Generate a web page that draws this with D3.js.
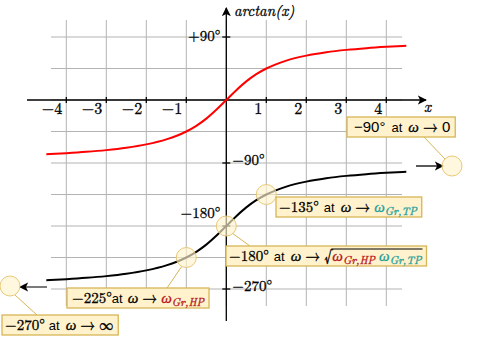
<!DOCTYPE html>
<html>
<head>
<meta charset="utf-8">
<script src="https://cdn.jsdelivr.net/npm/d3@7"></script>
<style>
  body { margin: 0; background: #fff; }
  svg { display: block; }
  text { white-space: pre; }
</style>
</head>
<body>
<svg id="chart" width="497" height="353"></svg>
<script>
// values
const xTicks = [-4, -3, -2, -1, 1, 2, 3, 4];
const yGrid = [90, 45, 0, -45, -90, -135, -180, -225, -270];
const yTickVals = [90, -90, -180, -270];
const yTickText = ["+90°", "−90°", "−180°", "−270°"];
const xs = [-4.5, -4, -3.5, -3, -2.5, -2, -1.5, -1, -0.75, -0.5, -0.25, 0, 0.25, 0.5, 0.75, 1, 1.5, 2, 2.5, 3, 3.5, 4, 4.5];
const redDeg = [-77.5, -76, -74.1, -71.6, -68.2, -63.4, -56.3, -45, -36.9, -26.6, -14, 0, 14, 26.6, 36.9, 45, 56.3, 63.4, 68.2, 71.6, 74.1, 76, 77.5];
const blackDeg = [-257.5, -256, -254.1, -251.6, -248.2, -243.4, -236.3, -225, -216.9, -206.6, -194, -180, -166, -153.4, -143.1, -135, -123.7, -116.6, -111.8, -108.4, -105.9, -104, -102.5];
const markX = [1, 0, -1];
const markDeg = [-135, -180, -225];

const SERIF = "'Latin Modern Roman', 'Liberation Serif'";
const SANS = "'Liberation Sans', Arial, sans-serif";
const TEAL = "#1b9e9a", DRED = "#b5121b";
const BOX_FILL = "#fff2cc", BOX_STROKE = "#d6b656";

const svg = d3.select("#chart");
const x = d3.scaleLinear().domain([-4, 4]).range([66.3, 386.3]);
const y = d3.scaleLinear().domain([90, -270]).range([37, 289]);

svg.append("defs").append("marker")
  .attr("id", "arr").attr("viewBox", "0 0 10 10").attr("refX", 9).attr("refY", 5)
  .attr("markerWidth", 7).attr("markerHeight", 7).attr("orient", "auto-start-reverse")
  .append("path").attr("d", "M0,0 L10,5 L0,10 L2.5,5 Z").attr("fill", "#000");

// serif text gets a thin stroke so it reads as dark as the reference
const serif = (sel, size, italic) => sel
  .style("font-family", SERIF).style("font-size", size + "px")
  .style("font-style", italic ? "italic" : "normal")
  .attr("stroke", "currentColor").attr("stroke-width", 0.3);

// grid
const grid = svg.append("g").attr("stroke", "#b3b3b3").attr("stroke-width", 1);
grid.selectAll("line.v").data(d3.range(-4, 5)).join("line")
  .attr("x1", d => x(d)).attr("x2", d => x(d)).attr("y1", 20).attr("y2", 306);
grid.selectAll("line.h").data(yGrid).join("line")
  .attr("x1", 51).attr("x2", 402).attr("y1", d => y(d)).attr("y2", d => y(d));

// axes
const ax = svg.append("g").attr("stroke", "#000").attr("stroke-width", 1.3);
ax.append("line").attr("x1", 27).attr("x2", 426).attr("y1", y(0)).attr("y2", y(0)).attr("marker-end", "url(#arr)");
ax.append("line").attr("x1", x(0)).attr("x2", x(0)).attr("y1", 321).attr("y2", 8).attr("marker-end", "url(#arr)");
ax.selectAll("line.xt").data(xTicks).join("line")
  .attr("x1", d => x(d)).attr("x2", d => x(d)).attr("y1", y(0) - 3).attr("y2", y(0) + 3);
ax.selectAll("line.yt").data(yTickVals).join("line")
  .attr("x1", x(0) - 4).attr("x2", x(0) + 4).attr("y1", d => y(d)).attr("y2", d => y(d));

serif(svg.selectAll("text.xl").data(xTicks).join("text")
  .attr("x", d => x(d) - 4).attr("y", y(0) + 14).attr("text-anchor", "end"), 16)
  .text(d => d < 0 ? "−" + Math.abs(d) : d);

serif(svg.append("text").attr("x", 424).attr("y", y(0) + 12), 15, true).text("x");
serif(svg.append("text").attr("x", 234).attr("y", 16), 15, true).text("arctan(x)");

yTickVals.forEach((v, i) => {
  const right = v === -90 || v === -270;
  const dy = v === -180 ? -8 : (v === 90 ? 4 : 2);
  serif(svg.append("text")
    .attr("x", right ? x(0) + 6 : x(0) - 6)
    .attr("y", y(v) + dy)
    .attr("text-anchor", right ? "start" : "end"), 15)
    .text(yTickText[i]);
});

// curves
const line = d3.line().x((d, i) => x(xs[i])).y(d => y(d)).curve(d3.curveMonotoneX);
svg.append("path").datum(redDeg).attr("d", line)
  .attr("fill", "none").attr("stroke", "#ff0000").attr("stroke-width", 2);
svg.append("path").datum(blackDeg).attr("d", line)
  .attr("fill", "none").attr("stroke", "#000").attr("stroke-width", 2);

// off-plot arrows
svg.append("line").attr("x1", 416).attr("x2", 443).attr("y1", 166).attr("y2", 166)
  .attr("stroke", "#000").attr("stroke-width", 1.3).attr("marker-end", "url(#arr)");
svg.append("line").attr("x1", 47).attr("x2", 20).attr("y1", 287).attr("y2", 287)
  .attr("stroke", "#333").attr("stroke-width", 1.3).attr("marker-end", "url(#arr)");

// connectors
const conn = [[423, 136, 445, 159], [232, 233, 250, 246], [182, 266, 167, 288], [15, 295, 37, 315]];
svg.selectAll("line.cn").data(conn).join("line")
  .attr("x1", d => d[0]).attr("y1", d => d[1]).attr("x2", d => d[2]).attr("y2", d => d[3])
  .attr("stroke", BOX_STROKE).attr("stroke-width", 1);

// marker circles
const circ = svg.append("g").attr("fill", BOX_FILL).attr("fill-opacity", 0.65)
  .attr("stroke", "#e9c978").attr("stroke-width", 1);
circ.selectAll("circle.m").data(markX).join("circle")
  .attr("cx", d => x(d)).attr("cy", (d, i) => y(markDeg[i])).attr("r", 10);
circ.append("circle").attr("cx", 452).attr("cy", 166).attr("r", 10);
circ.append("circle").attr("cx", 10).attr("cy", 286).attr("r", 10);

// annotation boxes
function rich(g, x0, base, segs) {
  let cx = x0;
  const marks = {};
  segs.forEach(s => {
    if (s.mark) { marks[s.mark] = cx; return; }
    if (s.sp) { cx += s.sp; return; }
    const t = g.append("text").attr("x", cx).attr("y", base + (s.dy || 0))
      .style("color", s.c || "#000").attr("fill", s.c || "#000")
      .text(s.t);
    if (s.f === "s") t.style("font-family", SANS).style("font-size", (s.z || 13) + "px");
    else serif(t, s.z || 15, s.i);
    cx += t.node().getComputedTextLength();
  });
  return { end: cx, marks };
}

const sub = (t, c) => ({ t, c, i: true, z: 11, dy: 3 });
const at = { t: "at", f: "s", z: 13 };
const w = { t: "ω", i: true };
const to = [{ sp: 4 }, { t: "→" }, { sp: 4 }];
const boxes = [
  { x: 347, y: 117, segs: [{ sp: 4 }, { t: "−90°", f: "s", z: 15 }, { sp: 6 }, at, { sp: 6 }, w, ...to, { t: "0", f: "s", z: 15 }] },
  { x: 276, y: 197, segs: [{ t: "−135°" }, { sp: 5 }, at, { sp: 6 }, w, ...to, { t: "ω", i: true, c: TEAL }, sub("Gr,TP", TEAL)] },
  { x: 226, y: 246, segs: [{ t: "−180°" }, { sp: 5 }, at, { sp: 6 }, w, ...to, { t: "√", z: 17, dy: 1 }, { mark: "a" }, { t: "ω", i: true, c: DRED }, sub("Gr,HP", DRED), { sp: 4 }, { t: "ω", i: true, c: TEAL }, sub("Gr,TP", TEAL), { mark: "b" }] },
  { x: 67, y: 288, segs: [{ sp: 2 }, { t: "−225°" }, at, { sp: 5 }, w, ...to, { t: "ω", i: true, c: DRED }, sub("Gr,HP", DRED)] },
  { x: 2, y: 315, segs: [{ t: "−270°" }, { sp: 4 }, at, { sp: 6 }, w, ...to, { t: "∞", z: 14 }] }
];

boxes.forEach(b => {
  const g = svg.append("g");
  const rect = g.append("rect").attr("x", b.x).attr("y", b.y).attr("height", 20)
    .attr("fill", BOX_FILL).attr("stroke", BOX_STROKE).attr("stroke-width", 1.3);
  const r = rich(g, b.x + 3, b.y + 15, b.segs);
  rect.attr("width", r.end - b.x + 5);
  if (r.marks.a !== undefined) {
    g.append("line").attr("x1", r.marks.a - 1).attr("x2", r.marks.b + 1)
      .attr("y1", b.y + 3).attr("y2", b.y + 3).attr("stroke", "#000").attr("stroke-width", 1);
  }
});
</script>
</body>
</html>
